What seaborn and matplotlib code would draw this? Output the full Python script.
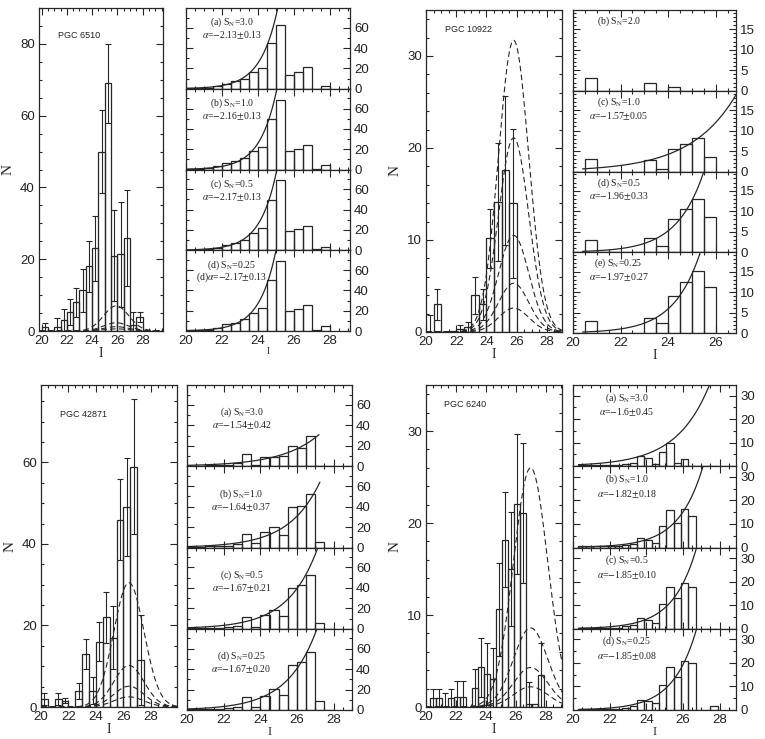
import numpy as np
import pandas as pd
import matplotlib
matplotlib.use("Agg")
import matplotlib.pyplot as plt
from matplotlib.ticker import MultipleLocator
import seaborn as sns

W, H = 765, 739
INK = "#262626"

# ---------------- PGC 6510 ----------------
edges_6510 = np.arange(20.0, 28.01, 0.5)
n_6510 = [1, 0, 1.2, 3, 5.4, 8, 11.4, 18, 23, 50, 69, 21, 21.4, 25.9, 1.7, 4]
err_6510 = [1.1, 0, 2.5, 3, 3.6, 4, 6, 7, 9, 11.5, 11, 12.6, 14.6, 13.3, 3.5, 1.4]
gauss_6510 = [7.0, 2.3, 1.2, 0.6]
mu_6510, sig_6510 = 25.9, 1.0
s6510_a = [0.5, 0.5, 1, 2.5, 5, 7.5, 10, 16, 20, 45, 63, 14, 16, 21, 0, 2.6]
s6510_b = [0.5, 0.5, 1, 3, 6, 8.4, 11.8, 17.8, 22.5, 49.5, 68, 18.5, 20, 24.5, 0.7, 4]
s6510_c = [0.5, 0.5, 1, 2.5, 5, 7, 10, 17, 22, 49.7, 68.9, 19, 20.5, 24, 1, 3.5]
s6510_d = [0.5, 0.5, 1, 3, 7, 8, 12, 18, 23, 50, 69, 20, 21.7, 26, 1.3, 4.5]
fit6510_alpha = [-2.13, -2.16, -2.17, -2.17]
fit6510_iref = [25.1, 25.05, 25.05, 25.0]
fit6510_nref = [80, 80, 80, 80]
lab6510 = [("(a) S$_{\\rm N}$=3.0", "$\\alpha$=$-$2.13$\\pm$0.13"),
           ("(b) S$_{\\rm N}$=1.0", "$\\alpha$=$-$2.16$\\pm$0.13"),
           ("(c) S$_{\\rm N}$=0.5", "$\\alpha$=$-$2.17$\\pm$0.13"),
           ("(d) S$_{\\rm N}$=0.25", "(d)$\\alpha$=$-$2.17$\\pm$0.13")]

# ---------------- PGC 10922 ----------------
edges_10922 = np.arange(20.0, 26.01, 0.5)
n_10922 = [0, 3, 0, 0.1, 0.3, 0.5, 4, 3, 10.2, 14.1, 17.6, 14]
err_10922 = [1.8, 1.7, 0, 0, 0.5, 0.6, 2, 1.7, 3.2, 6.4, 8.1, 8.1]
gauss_10922 = [31.7, 21.1, 10.5, 5.3, 2.6]
mu_10922, sig_10922 = 25.8, 1.0
s10922_b = [0, 3, 0, 0, 0, 0, 1.9, 0, 0.8, 0, 0, 0]
s10922_c = [0, 3, 0, 0, 0, 0, 2.9, 0.6, 5.5, 6.8, 8.2, 3.5]
s10922_d = [0, 3, 0, 0, 0, 0, 3.5, 1.6, 8.0, 10.5, 13, 8.7]
s10922_e = [0, 3, 0, 0, 0, 0, 3.6, 2.5, 9, 12.4, 15.2, 11.3]
fit10922_alpha = [None, -1.57, -1.96, -1.97]
fit10922_iref = [None, 26.9, 25.5, 25.35]
fit10922_nref = [None, 19.2, 19.7, 19.7]
lab10922 = [("(b) S$_{\\rm N}$=2.0", ""),
            ("(c) S$_{\\rm N}$=1.0", "$\\alpha$=$-$1.57$\\pm$0.05"),
            ("(d) S$_{\\rm N}$=0.5", "$\\alpha$=$-$1.96$\\pm$0.33"),
            ("(e) S$_{\\rm N}$=0.25", "$\\alpha$=$-$1.97$\\pm$0.27")]

# ---------------- PGC 42871 ----------------
edges_42871 = np.arange(20.0, 28.01, 0.5)
n_42871 = [2, 0, 2, 1.5, 0, 4, 13, 4, 16, 22, 17, 46, 49, 59, 11.5, 0]
err_42871 = [1.5, 0, 1.5, 0.6, 0, 2, 3.6, 3.3, 4.8, 6.2, 7.7, 10, 12, 16.6, 11, 0]
gauss_42871 = [30.5, 10.2, 5.1, 2.5]
mu_42871, sig_42871 = 26.4, 1.1
s42871_a = [0.7, 0.7, 1, 1, 1.5, 3, 12, 1, 8.7, 9.3, 10, 20, 17.7, 30, 0, 0]
s42871_b = [0.7, 0.7, 1, 1, 1.5, 3.5, 13, 4, 15, 20, 12.7, 40, 41, 52, 5, 0]
s42871_c = [0.7, 0.7, 1, 1, 1.5, 3, 11.7, 2, 13, 18, 12, 40, 43, 53, 6, 0]
s42871_d = [0.7, 0.7, 1, 1, 1.5, 3, 12.3, 3, 14, 20.7, 14.7, 44, 46.7, 56.7, 9, 0]
fit42871_alpha = [-1.54, -1.64, -1.67, -1.67]
fit42871_iref = [27.2, 27.25, 27.15, 27.1]
fit42871_nref = [31, 64, 80, 80]
lab42871 = [("(a) S$_{\\rm N}$=3.0", "$\\alpha$=$-$1.54$\\pm$0.42"),
            ("(b) S$_{\\rm N}$=1.0", "$\\alpha$=$-$1.64$\\pm$0.37"),
            ("(c) S$_{\\rm N}$=0.5", "$\\alpha$=$-$1.67$\\pm$0.21"),
            ("(d) S$_{\\rm N}$=0.25", "$\\alpha$=$-$1.67$\\pm$0.20")]

# ---------------- PGC 6240 ----------------
edges_6240 = np.arange(20.3, 27.91, 0.4)
n_6240 = [1, 1, 0, 1, 1.1, 1.1, 0, 2.1, 4.3, 3.6, 3.0, 10.6, 18.2, 15.0, 22.1, 21.1, 0.3, 0.3, 3.5]
err_6240 = [1, 1, 1.5, 1, 1.7, 1.7, 0, 2, 3.2, 3.4, 3.4, 5.1, 5.2, 6.2, 7.6, 7.6, 2.4, 0, 3.5]
gauss_6240 = [26.0, 8.6, 4.3, 2.2]
mu_6240, sig_6240 = 27.0, 1.15
s6240_a = [0.5, 0.5, 0.5, 0.5, 0.5, 0.5, 1, 1.5, 4.2, 3.4, 1, 6, 9.8, 1.2, 3, 0, 0, 0, 0]
s6240_b = [0.5, 0.5, 0.5, 0.5, 0.5, 0.5, 1, 1.5, 4, 3.3, 2, 9, 16, 10.5, 16.5, 13.3, 0, 0, 0]
s6240_c = [0.5, 0.5, 0.5, 0.5, 0.5, 0.5, 1, 1.5, 4.4, 3.8, 2.6, 10.3, 17.6, 13.2, 19.6, 17.6, 0, 0, 0]
s6240_d = [0.5, 0.5, 0.5, 0.5, 0.5, 0.5, 1, 1.5, 4.4, 4, 3, 10.6, 18.1, 14, 21, 19.9, 0, 0, 1.5]
fit6240_alpha = [-1.6, -1.82, -1.85, -1.85]
fit6240_iref = [27.45, 27.1, 26.75, 26.75]
fit6240_nref = [34.5, 34.5, 34.5, 34.5]
lab6240 = [("(a) S$_{\\rm N}$=3.0", "$\\alpha$=$-$1.6$\\pm$0.45"),
           ("(b) S$_{\\rm N}$=1.0", "$\\alpha$=$-$1.82$\\pm$0.18"),
           ("(c) S$_{\\rm N}$=0.5", "$\\alpha$=$-$1.85$\\pm$0.10"),
           ("(d) S$_{\\rm N}$=0.25", "$\\alpha$=$-$1.85$\\pm$0.08")]

sns.set_theme(style="ticks")
plt.rcParams["font.family"] = ["Liberation Sans", "DejaVu Sans"]
plt.rcParams["mathtext.fontset"] = "stix"
plt.rcParams["axes.edgecolor"] = INK
plt.rcParams["axes.linewidth"] = 0.9
SERIF = ["Liberation Serif", "DejaVu Serif"]

fig = plt.figure(figsize=(W / 100, H / 100), dpi=100)


def box(x0, y0, x1, y1):
    return [x0 / W, 1 - y1 / H, (x1 - x0) / W, (y1 - y0) / H]


def style(ax, xlim, ylim, ymaj, ymin):
    ax.set_xlim(*xlim)
    ax.set_ylim(*ylim)
    ax.xaxis.set_major_locator(MultipleLocator(2))
    ax.xaxis.set_minor_locator(MultipleLocator(0.5))
    ax.yaxis.set_major_locator(MultipleLocator(ymaj))
    ax.yaxis.set_minor_locator(MultipleLocator(ymin))
    ax.tick_params(which="both", direction="in", top=True, right=True,
                   color=INK, width=0.8, labelsize=9.5, labelcolor="#222", pad=3)
    ax.tick_params(which="major", length=5)
    ax.tick_params(which="minor", length=2.5)


def hist(ax, edges, counts):
    edges = np.asarray(edges, dtype=float)
    df = pd.DataFrame({"mag": (edges[:-1] + edges[1:]) / 2,
                       "n": np.asarray(counts, dtype=float)})
    sns.histplot(data=df, x="mag", weights="n", bins=list(edges), fill=False,
                 color=INK, linewidth=0.9, ax=ax)


def main_panel(rect, edges, counts, errs, amps, mu, sig, name, name_xy, xlim, ylim, ymaj, ymin):
    ax = fig.add_axes(box(*rect))
    hist(ax, edges, counts)
    centers = (edges[:-1] + edges[1:]) / 2
    c = np.array(counts, dtype=float)
    e = np.array(errs, dtype=float)
    m = e > 0
    ax.errorbar(centers[m], c[m], yerr=e[m], fmt="none", ecolor=INK,
                elinewidth=0.8, capsize=2, capthick=0.8)
    xs = np.linspace(xlim[0], xlim[1], 300)
    for a in amps:
        ax.plot(xs, a * np.exp(-0.5 * ((xs - mu) / sig) ** 2), color=INK,
                lw=0.8, ls=(0, (5, 3)))
    style(ax, xlim, ylim, ymaj, ymin)
    ax.set_xlabel("I", family=SERIF, fontsize=10, labelpad=0)
    ax.set_ylabel("N", family=SERIF, fontsize=11, labelpad=4)
    ax.text(name_xy[0], name_xy[1], name, transform=ax.transAxes,
            fontsize=6.5, ha="left", va="center", color="#222")
    return ax


def stack_panel(rect, edges, series, alphas, irefs, nrefs, labels, lab_xy, xstart,
                xlim, ylim, ymaj, ymin, xlabsize=10):
    x0, y0, x1, y1 = rect
    step = (y1 - y0) / len(series)
    for i, counts in enumerate(series):
        ax = fig.add_axes(box(x0, y0 + i * step, x1, y0 + (i + 1) * step))
        hist(ax, edges, counts)
        if alphas[i] is not None:
            k = -0.4 * (alphas[i] + 1)
            xs = np.linspace(xstart, irefs[i], 200)
            ax.plot(xs, nrefs[i] * 10 ** (k * (xs - irefs[i])), color=INK, lw=0.9)
        style(ax, xlim, ylim, ymaj, ymin)
        ax.tick_params(labelleft=False, labelright=True,
                       labelbottom=(i == len(series) - 1))
        ax.set_ylabel("")
        if i == len(series) - 1:
            ax.set_xlabel("I", family=SERIF, fontsize=xlabsize, labelpad=0)
        else:
            ax.set_xlabel("")
        l1, l2 = labels[i]
        ax.text(lab_xy[0], lab_xy[1], l1, transform=ax.transAxes, family=SERIF,
                fontsize=7, ha="center", va="center", color="#222")
        if l2:
            ax.text(lab_xy[0], lab_xy[2], l2, transform=ax.transAxes, family=SERIF,
                    fontsize=7, ha="center", va="center", color="#222")


# top left
main_panel((39, 8, 163, 331), edges_6510, n_6510, err_6510, gauss_6510, mu_6510, sig_6510,
           "PGC 6510", (0.15, 0.915), (19.8, 29.6), (0, 90), 20, 5)
stack_panel((186, 8, 350, 331), edges_6510, [s6510_a, s6510_b, s6510_c, s6510_d],
            fit6510_alpha, fit6510_iref, fit6510_nref, lab6510, (0.28, 0.82, 0.66),
            20.0, (20, 29.1), (0, 79.5), 20, 10, xlabsize=7)

# top right
main_panel((426, 10, 562, 332), edges_10922, n_10922, err_10922, gauss_10922, mu_10922,
           sig_10922, "PGC 10922", (0.14, 0.94), (20, 29), (0, 35), 10, 2)
stack_panel((573, 10, 736, 333), edges_10922, [s10922_b, s10922_c, s10922_d, s10922_e],
            fit10922_alpha, fit10922_iref, fit10922_nref, lab10922, (0.28, 0.86, 0.69),
            20.4, (20, 26.85), (0, 19.7), 5, 1)

# bottom left
main_panel((41, 385, 177, 707), edges_42871, n_42871, err_42871, gauss_42871, mu_42871,
           sig_42871, "PGC 42871", (0.14, 0.907), (20, 29.9), (0, 79), 20, 5)
stack_panel((187, 385, 352, 710), edges_42871, [s42871_a, s42871_b, s42871_c, s42871_d],
            fit42871_alpha, fit42871_iref, fit42871_nref, lab42871, (0.33, 0.66, 0.50),
            20.0, (20, 29), (0, 79.5), 20, 10, xlabsize=9)

# bottom right
main_panel((426, 385, 562, 707), edges_6240, n_6240, err_6240, gauss_6240, mu_6240,
           sig_6240, "PGC 6240", (0.13, 0.938), (20, 29.1), (0, 35), 10, 2)
stack_panel((573, 385, 736, 710), edges_6240, [s6240_a, s6240_b, s6240_c, s6240_d],
            fit6240_alpha, fit6240_iref, fit6240_nref, lab6240, (0.33, 0.84, 0.66),
            20.3, (20, 28.9), (0, 34.5), 10, 5, xlabsize=9)

fig.savefig("out.png", dpi=100, facecolor="white")
